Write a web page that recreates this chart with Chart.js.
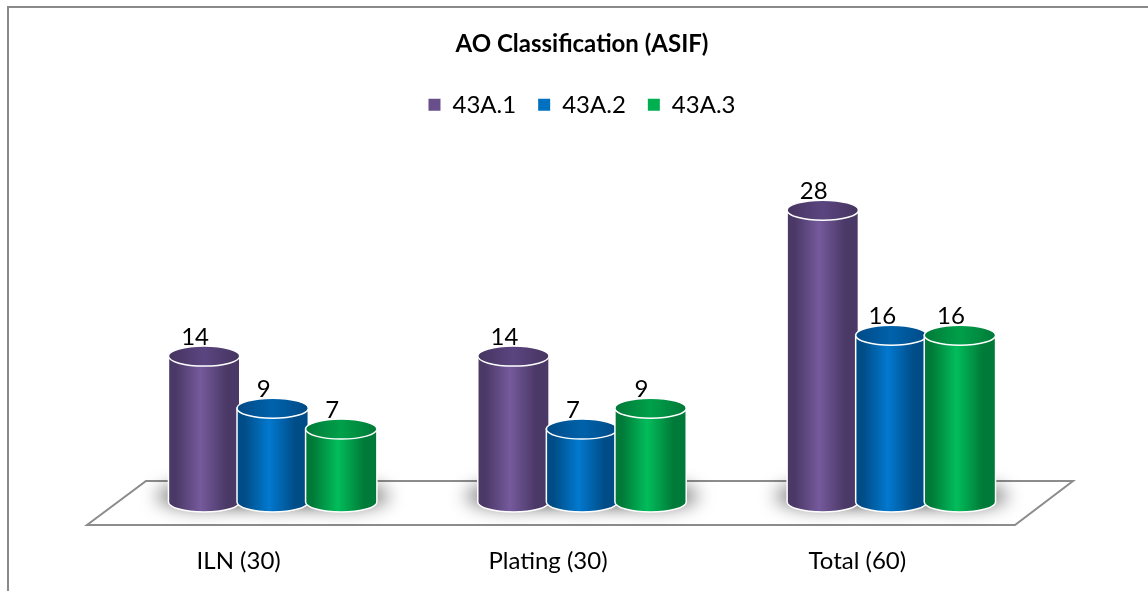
<!DOCTYPE html>
<html>
<head>
<meta charset="utf-8">
<script src="https://cdn.jsdelivr.net/npm/chart.js@4"></script>
<style>
  html, body { margin: 0; background: #fff; }
  #wrap { width: 1148px; height: 591px; }
</style>
</head>
<body>
<div id="wrap"><canvas id="myChart"></canvas></div>
<script>
var categories = ["ILN (30)", "Plating (30)", "Total (60)"];
var seriesNames = ["43A.1", "43A.2", "43A.3"];
var a1 = [14, 14, 28];
var a2 = [9, 7, 16];
var a3 = [7, 9, 16];

var legendColors = ["#684f8c", "#0070c0", "#00b050"];
// shading for the cylinder bodies and tops
var shades = [
  { edge: "#4a3866", mid: "#755a9c", top: "#5b4580", topEdge: "#45345f" },
  { edge: "#004c86", mid: "#0279cf", top: "#0062ab", topEdge: "#004a86" },
  { edge: "#007a38", mid: "#02bd5b", top: "#00a04a", topEdge: "#007a38" }
];

var FONT = "Lato, 'Open Sans', sans-serif";

function cylinder(ctx, x, top, base, w, s) {
  var rx = w / 2, ry = 10;
  var g = ctx.createLinearGradient(x - rx, 0, x + rx, 0);
  g.addColorStop(0, s.edge);
  g.addColorStop(0.1, s.edge);
  g.addColorStop(0.45, s.mid);
  g.addColorStop(0.82, s.edge);
  g.addColorStop(1, s.edge);
  ctx.beginPath();
  ctx.moveTo(x - rx, top);
  ctx.lineTo(x - rx, base);
  ctx.ellipse(x, base, rx, ry, 0, Math.PI, 0, true);
  ctx.lineTo(x + rx, top);
  ctx.closePath();
  ctx.fillStyle = g;
  ctx.fill();
  ctx.lineWidth = 1.5;
  ctx.strokeStyle = "#ffffff";
  ctx.stroke();

  var gt = ctx.createLinearGradient(x - rx, 0, x + rx, 0);
  gt.addColorStop(0, s.topEdge);
  gt.addColorStop(0.5, s.top);
  gt.addColorStop(1, s.topEdge);
  ctx.beginPath();
  ctx.ellipse(x, top, rx, ry, 0, 0, Math.PI * 2);
  ctx.fillStyle = gt;
  ctx.fill();
  ctx.stroke();
}

var cylinders = {
  id: "cylinders",
  beforeDraw: function (chart) {
    var ctx = chart.ctx;
    ctx.save();
    ctx.strokeStyle = "#8a8a8a";
    ctx.lineWidth = 2;
    ctx.beginPath();
    ctx.moveTo(8, chart.height);
    ctx.lineTo(8, 7);
    ctx.lineTo(chart.width, 7);
    ctx.stroke();
    ctx.restore();
  },
  beforeDatasetsDraw: function (chart) {
    var ctx = chart.ctx;
    var area = chart.chartArea;
    ctx.save();
    // floor
    var fy1 = area.bottom - 21, fy2 = area.bottom + 23;
    ctx.beginPath();
    ctx.moveTo(area.left + 28, fy1);
    ctx.lineTo(area.right + 27, fy1);
    ctx.lineTo(area.right - 31, fy2);
    ctx.lineTo(area.left - 31, fy2);
    ctx.closePath();
    ctx.fillStyle = "#ffffff";
    ctx.fill();
    ctx.strokeStyle = "#8c8c8c";
    ctx.lineWidth = 2;
    ctx.stroke();

    // soft shadows on the floor
    ctx.filter = "blur(9px)";
    ctx.fillStyle = "rgba(0,0,0,0.5)";
    chart.data.datasets.forEach(function (ds, i) {
      chart.getDatasetMeta(i).data.forEach(function (bar) {
        ctx.beginPath();
        ctx.ellipse(bar.x, bar.base - 6, bar.width / 2 + 12, 13, 0, 0, Math.PI * 2);
        ctx.fill();
      });
    });
    ctx.filter = "none";

    // cylinders, later series in front
    for (var c = 0; c < categories.length; c++) {
      for (var i = 0; i < chart.data.datasets.length; i++) {
        var bar = chart.getDatasetMeta(i).data[c];
        cylinder(ctx, bar.x, bar.y, bar.base, bar.width, shades[i]);
      }
    }

    // value labels
    ctx.fillStyle = "#000";
    ctx.font = "24px " + FONT;
    ctx.textAlign = "center";
    ctx.textBaseline = "alphabetic";
    chart.data.datasets.forEach(function (ds, i) {
      chart.getDatasetMeta(i).data.forEach(function (bar, j) {
        ctx.fillText(String(ds.data[j]), bar.x - 9, bar.y - 11);
      });
    });
    ctx.restore();
    return false;
  }
};

window.addEventListener("load", function () {
  var ctx = document.getElementById("myChart");
  new Chart(ctx, {
    type: "bar",
    data: {
      labels: categories,
      datasets: [
        { label: seriesNames[0], data: a1, backgroundColor: legendColors[0] },
        { label: seriesNames[1], data: a2, backgroundColor: legendColors[1] },
        { label: seriesNames[2], data: a3, backgroundColor: legendColors[2] }
      ]
    },
    options: {
      responsive: true,
      maintainAspectRatio: false,
      animation: false,
      categoryPercentage: 0.665,
      barPercentage: 1.04,
      layout: { padding: { left: 118, right: 102, top: 0, bottom: 0 } },
      plugins: {
        title: {
          display: true,
          text: "AO Classification (ASIF)",
          color: "#000",
          font: { family: FONT, size: 24, weight: "bold" },
          padding: { top: 30, bottom: 12 }
        },
        legend: {
          display: true,
          labels: {
            color: "#000",
            font: { family: FONT, size: 24 },
            boxWidth: 12,
            boxHeight: 12,
            padding: 22
          }
        },
        tooltip: { enabled: false }
      },
      scales: {
        x: {
          grid: { display: false },
          border: { display: false },
          ticks: {
            color: "#000",
            font: { family: FONT, size: 24 },
            padding: 37,
            labelOffset: -34
          },
          afterFit: function (scale) { scale.height = 89; }
        },
        y: {
          display: false,
          min: 0,
          max: 36
        }
      }
    },
    plugins: [cylinders]
  });
});
</script>
</body>
</html>
